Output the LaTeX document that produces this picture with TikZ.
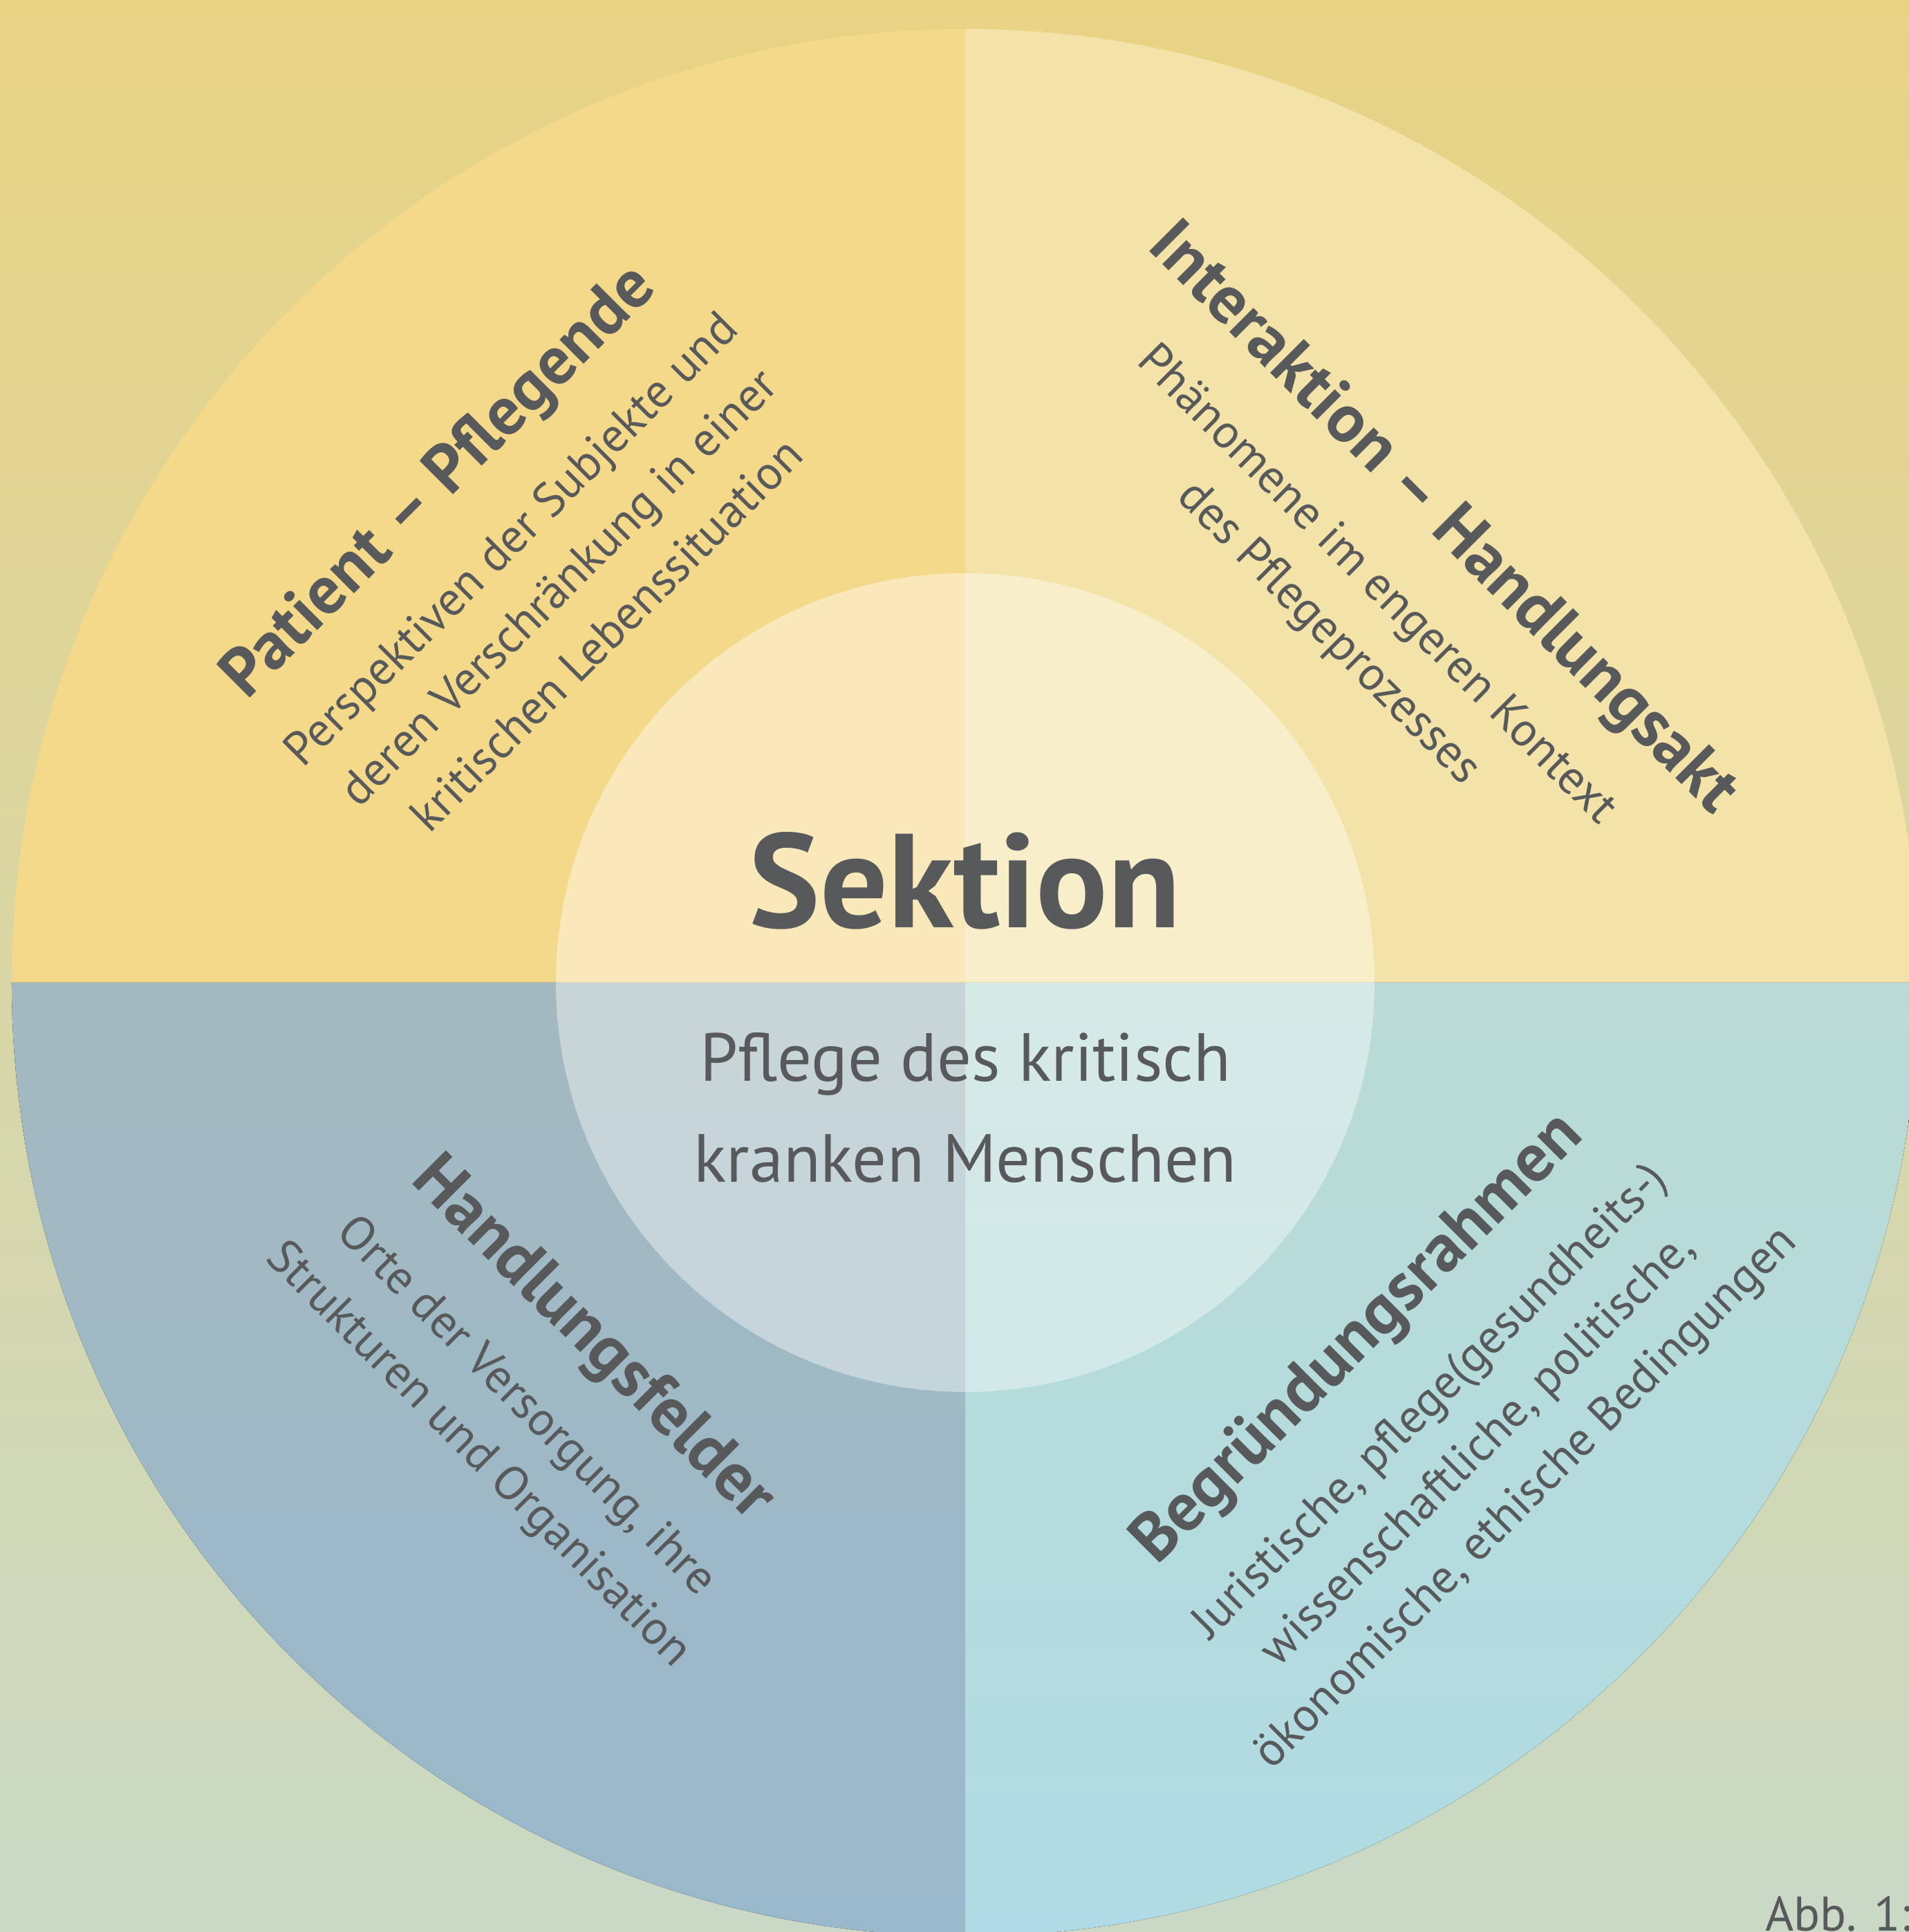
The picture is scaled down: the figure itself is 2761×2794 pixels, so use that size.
\documentclass[tikz,border=0pt]{standalone}
\usepackage{fontspec}
\setmainfont{PT Sans}
\definecolor{ink}{HTML}{58595B}
\definecolor{bgtop}{HTML}{E9D383}
\definecolor{bgbot}{HTML}{C9D9C6}
\definecolor{patfill}{HTML}{F5D98B}
\definecolor{intfill}{HTML}{F4E3A8}
\definecolor{feldtop}{HTML}{A3B9C0}
\definecolor{feldbot}{HTML}{99B8CB}
\definecolor{begrtop}{HTML}{BADBD5}
\definecolor{begrbot}{HTML}{B0DBE4}

\begin{document}
\begin{tikzpicture}[x=0.01cm,y=0.01cm,
    title/.style={text=ink,inner sep=0pt,font=\bfseries\fontsize{28}{32}\selectfont},
    note/.style={text=ink,inner sep=0pt,align=center,font=\fontsize{19.6}{27.9}\selectfont}]
    \useasboundingbox (-1396,-1373) rectangle (1365,1421);
    \fill[top color=bgtop,bottom color=bgbot] (-1396,-1373) rectangle (1365,1421);

    % the four quarters
    \fill[patfill] (0,0) -- (180:1379) arc[start angle=180,end angle=90,radius=1379] -- cycle;
    \fill[intfill] (0,0) -- (90:1379) arc[start angle=90,end angle=0,radius=1379] -- cycle;
    \fill[top color=feldtop,bottom color=feldbot] (0,0) -- (180:1379) arc[start angle=180,end angle=270,radius=1379] -- cycle;
    \fill[top color=begrtop,bottom color=begrbot] (0,0) -- (270:1379) arc[start angle=270,end angle=360,radius=1379] -- cycle;
    \fill[white,opacity=0.4] (0,0) circle[radius=592];

    \node[text=ink,font=\bfseries\fontsize{55}{60}\selectfont] (sektion) at (0,147) {Sektion};
    \node[text=ink,align=center,font=\fontsize{28}{41.5}\selectfont] (pflege) at (0,-181) {Pflege des kritisch\\kranken Menschen};

    \node[title,rotate=45]  (patient) at (-759,722) {Patient – Pflegende};
    \node[note,rotate=45]   (patient-note) at (-589,573) {Perspektiven der Subjekte und\\deren Verschränkung in einer\\kritischen Lebenssituation};
    \node[title,rotate=-45] (interaktion) at (689,669) {Interaktion – Handlungsakt};
    \node[note,rotate=-45]  (interaktion-note) at (559,539) {Phänomene im engeren Kontext\\des Pflegeprozesses};
    \node[title,rotate=-45] (felder) at (-540,-517) {Handlungsfelder};
    \node[note,rotate=-45]  (felder-note) at (-671,-649) {Orte der Versorgung, ihre\\Strukturen und Organisation};
    \node[title,rotate=45]  (rahmen) at (569,-516) {Begründungsrahmen};
    \node[note,rotate=45]   (rahmen-note) at (743,-677) {Juristische, pflege(gesundheits-)\\wissenschaftliche, politische,\\ökonomische, ethische Bedingungen};

    \node[text=ink,anchor=base west,inner sep=0pt,font=\fontsize{20}{24}\selectfont] (abb) at (1157,-1371) {Abb. 1:};
\end{tikzpicture}
\end{document}
